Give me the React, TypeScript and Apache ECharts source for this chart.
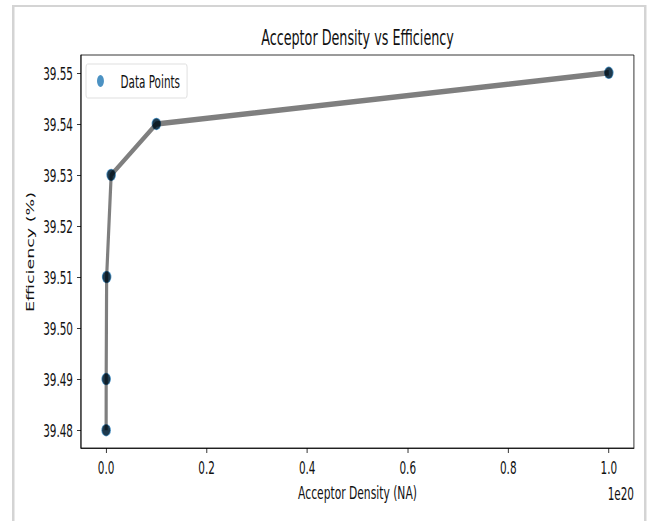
import React, { useEffect, useRef } from "react";
import * as echarts from "echarts";

const acceptorDensity = [1e15, 1e16, 1e17, 1e18, 1e19, 1e20];
const efficiency = [39.48, 39.49, 39.51, 39.53, 39.54, 39.55];
const xTicks = [0, 0.2, 0.4, 0.6, 0.8, 1.0];
const yTicks = [39.48, 39.49, 39.5, 39.51, 39.52, 39.53, 39.54, 39.55];
const xScale = 1e20;

const FONT = "'DejaVu Sans', sans-serif";
// horizontal squeeze of the reference picture
const S = 0.58;
const W = 652;
const H = 521;
const px = (x: number) => x / S;

const ELLIPSE = "path://M0 50A50 50 0 1 1 100 50A50 50 0 1 1 0 50Z";

export default function App() {
  const ref = useRef<HTMLDivElement>(null);
  useEffect(() => {
    if (!ref.current) return;
    const chart = echarts.init(ref.current, null, { renderer: "svg" });
    const pts = acceptorDensity.map((x, i) => [x / xScale, efficiency[i]]);
    chart.setOption({
      animation: false,
      backgroundColor: "#ffffff",
      grid: {
        left: px(81),
        right: px(18),
        top: 55,
        bottom: 73,
        show: true,
        borderColor: "#000",
        borderWidth: 1,
        containLabel: false,
      },
      legend: {
        data: [{ name: "Data Points", icon: ELLIPSE }],
        left: px(86),
        top: 64,
        orient: "vertical",
        itemWidth: px(8),
        itemHeight: 12,
        padding: [8, px(7), 8, px(11)],
        borderColor: "#d6d6d6",
        borderWidth: 1,
        borderRadius: 3,
        textStyle: {
          fontFamily: FONT,
          fontSize: 18,
          lineHeight: 17,
          color: "#111",
          padding: [0, 0, 0, px(16) - 5],
        },
      },
      xAxis: {
        type: "value",
        min: -0.05,
        max: 1.05,
        splitLine: { show: false },
        axisLine: { show: true, onZero: false, lineStyle: { color: "#000", width: 1 } },
        axisTick: { show: true, inside: false, length: 5, customValues: xTicks, lineStyle: { color: "#000" } },
        axisLabel: {
          customValues: xTicks,
          formatter: (v: number) => v.toFixed(1),
          fontFamily: FONT,
          fontSize: 18,
          color: "#111",
          margin: 10,
        },
      },
      yAxis: {
        type: "value",
        min: 39.4765,
        max: 39.5535,
        splitLine: { show: false },
        axisLine: { show: true, onZero: false, lineStyle: { color: "#000", width: 1 } },
        axisTick: { show: true, inside: false, length: px(4), customValues: yTicks, lineStyle: { color: "#000" } },
        axisLabel: {
          customValues: yTicks,
          formatter: (v: number) => v.toFixed(2),
          fontFamily: FONT,
          fontSize: 18,
          color: "#111",
          margin: px(8),
        },
      },
      graphic: [
        {
          type: "rect",
          shape: { x: px(12), y: 5, width: px(634), height: 2 },
          style: { fill: "#d4d4d4" },
          silent: true,
        },
        {
          type: "rect",
          shape: { x: px(12), y: 5, width: px(2.5), height: H },
          style: { fill: "#d4d4d4" },
          silent: true,
        },
        {
          type: "rect",
          shape: { x: px(644), y: 5, width: px(2.5), height: H },
          style: { fill: "#d4d4d4" },
          silent: true,
        },
        {
          type: "text",
          x: px(357.5),
          y: 37,
          style: {
            text: "Acceptor Density vs Efficiency",
            fontFamily: FONT,
            fontSize: 22,
            fill: "#111",
            textAlign: "center",
            textVerticalAlign: "middle",
          },
        },
        {
          type: "text",
          x: px(357.5),
          y: 493,
          style: {
            text: "Acceptor Density (NA)",
            fontFamily: FONT,
            fontSize: 18.5,
            fill: "#111",
            textAlign: "center",
            textVerticalAlign: "middle",
          },
        },
        {
          type: "text",
          x: px(634),
          y: 493,
          style: {
            text: "1e20",
            fontFamily: FONT,
            fontSize: 18,
            fill: "#111",
            textAlign: "right",
            textVerticalAlign: "middle",
          },
        },
        {
          type: "text",
          x: px(30),
          y: 252,
          rotation: Math.PI / 2,
          style: {
            text: "Efficiency (%)",
            fontFamily: FONT,
            fontSize: 17.5,
            fill: "#111",
            textAlign: "center",
            textVerticalAlign: "middle",
          },
        },
      ],
      series: [
        {
          name: "Data Points",
          type: "scatter",
          data: pts,
          symbol: ELLIPSE,
          symbolSize: [px(9.5), 12.5],
          itemStyle: { color: "#1f77b4" },
          z: 2,
        },
        {
          name: "line",
          type: "line",
          data: pts,
          symbol: ELLIPSE,
          symbolSize: [px(8), 11],
          showSymbol: true,
          lineStyle: { color: "#000", width: 5.5, opacity: 0.5 },
          itemStyle: { color: "#000", opacity: 0.6 },
          z: 3,
        },
      ],
    });
    return () => chart.dispose();
  }, []);
  return (
    <div
      style={{ position: "fixed", left: 0, top: 0, width: W, height: H, overflow: "hidden", background: "#fff" }}
    >
      <div
        ref={ref}
        style={{
          position: "absolute",
          left: 0,
          top: 0,
          width: px(W),
          height: H,
          transform: `scaleX(${S})`,
          transformOrigin: "0 0",
        }}
      />
    </div>
  );
}
